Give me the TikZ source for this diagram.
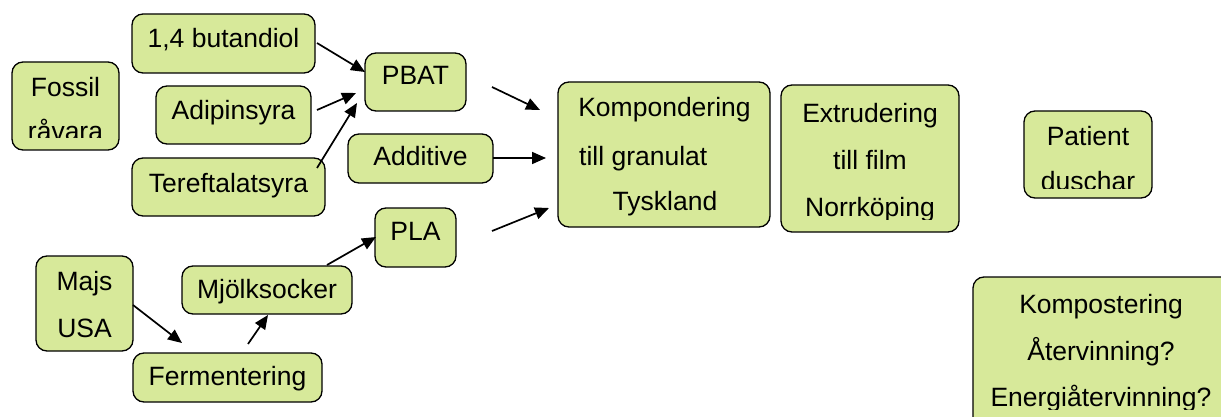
\documentclass[tikz,border=0pt]{standalone}
\usepackage{fontspec}
\setmainfont{Liberation Sans}
\usetikzlibrary{arrows.meta}
\definecolor{boxgreen}{RGB}{215,233,154}
\tikzset{
  box/.style={draw=black, fill=boxgreen, line width=1.3pt, rounded corners=11pt,
              inner sep=0pt},
  lbl/.style={anchor=base, inner sep=0pt, font=\fontsize{26.5}{31}\selectfont},
  lblw/.style={lbl, anchor=base west},
  arr/.style={line width=1.7pt, -{Triangle[length=14pt,width=12pt]}},
}
% draw a box from its corner coordinates
\newcommand{\procbox}[5]{%
  \node[box, minimum width=#4pt-#2pt, minimum height=#5pt-#3pt] (#1)
    at ({(#2+#4)/2},{(#3+#5)/2}) {};}
\begin{document}
\begin{tikzpicture}[x=1pt, y=-1pt]
\useasboundingbox (0,0) rectangle (1221,417);
\clip (0,0) rectangle (1221,417);

% ---- boxes ----
\procbox{fossil}{12}{62}{119}{150}
\procbox{butan}{132}{14}{315}{73}
\procbox{adip}{156}{86}{311}{144}
\procbox{teref}{132}{158}{325}{216}
\procbox{pbat}{365}{53}{466}{111}
\procbox{addit}{348}{134}{493}{183}
\procbox{pla}{375}{208}{456}{267}
\procbox{majs}{36}{256}{133}{351}
\procbox{mjolk}{182}{266}{352}{314}
\procbox{ferm}{133}{353}{322}{402}
\procbox{komp}{558}{82}{770}{227}
\procbox{extr}{781}{85}{959}{232}
\procbox{pat}{1024}{111}{1152}{198}
\procbox{kompost}{973}{277}{1232}{428}

% ---- labels ----
\node[lbl] (fossilA) at (65.5,97) {Fossil};
\begin{scope}
  \clip (12,62) rectangle (119,138);
  \node[lbl] (fossilB) at (65.5,141) {råvara};
\end{scope}
\node[lbl] (butanT) at (223.5,48) {1,4 butandiol};
\node[lbl] (adipT) at (233.5,120) {Adipinsyra};
\node[lbl] (terefT) at (228.5,193) {Tereftalatsyra};
\node[lbl] (pbatT) at (415.5,85) {PBAT};
\node[lbl] (additT) at (420.5,166) {Additive};
\node[lbl] (plaT) at (415.5,240) {PLA};
\node[lbl] (majsA) at (84.5,290) {Majs};
\node[lbl] (majsB) at (84.5,337) {USA};
\node[lbl] (mjolkT) at (267,298) {Mjölksocker};
\node[lbl] (fermT) at (227.5,385) {Fermentering};

\node[lbl] (kompA) at (664.5,117) {Kompondering};
\node[lblw] (kompB) at (579,165) {till granulat};
\node[lbl] (kompC) at (665,210) {Tyskland};

\node[lbl] (extrA) at (870,123) {Extrudering};
\node[lbl] (extrB) at (870,170) {till film};
\begin{scope}
  \clip (781,85) rectangle (959,219);
  \node[lbl] (extrC) at (870,216) {Norrköping};
\end{scope}

\node[lbl] (patA) at (1088,146) {Patient};
\begin{scope}
  \clip (1024,111) rectangle (1152,188);
  \node[lbl] (patB) at (1088,190) {duschar};
\end{scope}

\node[lbl] (kpA) at (1101,313) {Kompostering};
\node[lbl] (kpB) at (1101,360) {Återvinning?};
\begin{scope}
  \clip (973,277) rectangle (1221,409);
  \node[lbl] (kpC) at (1101,406) {Energiåtervinning?};
\end{scope}

% ---- connector end points ----
\coordinate (butanOut) at (317,43);
\coordinate (pbatIn1) at (365,72);
\coordinate (adipOut) at (317,110);
\coordinate (pbatIn2) at (356,93);
\coordinate (terefOut) at (317,168);
\coordinate (pbatIn3) at (357,103);
\coordinate (pbatOut) at (492,87);
\coordinate (kompIn1) at (540,110);
\coordinate (additOut) at (493,158);
\coordinate (kompIn2) at (546,158);
\coordinate (plaOut) at (492,231);
\coordinate (kompIn3) at (549,208);
\coordinate (mjolkOut) at (327,265);
\coordinate (plaIn) at (376,237);
\coordinate (majsOut) at (133,305);
\coordinate (fermIn) at (182,343);
\coordinate (fermOut) at (248,344);
\coordinate (mjolkIn) at (268,315);

% ---- connectors ----
\draw[arr] (butanOut) -- (pbatIn1);
\draw[arr] (adipOut) -- (pbatIn2);
\draw[arr] (terefOut) -- (pbatIn3);
\draw[arr] (pbatOut) -- (kompIn1);
\draw[arr] (additOut) -- (kompIn2);
\draw[arr] (plaOut) -- (kompIn3);
\draw[arr] (mjolkOut) -- (plaIn);
\draw[arr] (majsOut) -- (fermIn);
\draw[arr] (fermOut) -- (mjolkIn);
\end{tikzpicture}
\end{document}
